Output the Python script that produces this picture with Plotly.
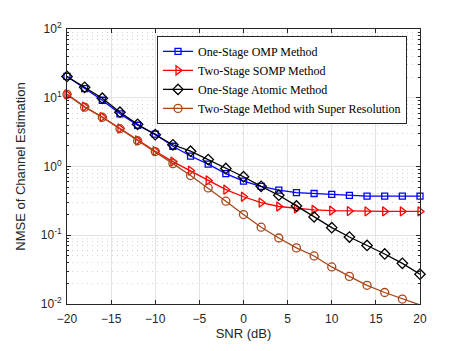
import plotly.graph_objects as go

snr = [-20, -18, -16, -14, -12, -10, -8, -6, -4, -2, 0, 2, 4, 6, 8, 10, 12, 14, 16, 18, 20]

omp = [20.4, 13.6, 9.2, 5.84, 3.98, 2.96, 1.97, 1.42, 1.08, 0.787, 0.612, 0.515, 0.452,
       0.418, 0.405, 0.394, 0.38, 0.372, 0.37, 0.37, 0.37]
somp = [11.2, 7.4, 5.24, 3.57, 2.39, 1.67, 1.18, 0.869, 0.627, 0.46, 0.363, 0.299, 0.262,
        0.245, 0.234, 0.228, 0.225, 0.222, 0.222, 0.222, 0.222]
atomic = [20.4, 14.2, 9.84, 6.17, 4.11, 2.9, 2.07, 1.67, 1.26, 0.937, 0.71, 0.515, 0.382,
          0.267, 0.185, 0.129, 0.0942, 0.071, 0.0534, 0.039, 0.0271]
superres = [11.2, 7.3, 5.2, 3.55, 2.37, 1.65, 1.10, 0.738, 0.488, 0.313, 0.2, 0.131, 0.0912,
            0.0655, 0.05, 0.0346, 0.0252, 0.0187, 0.0147, 0.0118, 0.0097]

names = ["One-Stage OMP Method", "Two-Stage SOMP Method",
         "One-Stage Atomic Method", "Two-Stage Method with Super Resolution"]
colors = ["#0000FF", "#FF0000", "#000000", "#A8471A"]
symbols = ["square-open", "triangle-right-open", "diamond-open", "circle-open"]
sizes = [6, 8, 8, 8]
series = [omp, somp, atomic, superres]

y_tickvals = [0.01, 0.1, 1, 10, 100]
y_ticktext = ["10<sup>-2</sup>", "10<sup>-1</sup>", "10<sup>0</sup>", "10<sup>1</sup>", "10<sup>2</sup>"]
y_minor = [m * 10 ** e for e in range(-2, 2) for m in range(2, 10)]

fig = go.Figure()
for name, col, sym, sz, ys in zip(names, colors, symbols, sizes, series):
    fig.add_trace(go.Scatter(
        x=snr, y=ys, name=name, mode="lines+markers",
        line=dict(color=col, width=1.3),
        marker=dict(symbol=sym, size=sz, color=col, line=dict(width=1.3, color=col)),
        cliponaxis=False,
    ))

axis_color = "#262626"
fig.update_layout(
    width=457, height=343,
    margin=dict(l=52, r=45, t=21, b=41),
    paper_bgcolor="white", plot_bgcolor="white",
    font=dict(family="Liberation Sans, Arial, sans-serif", size=12, color=axis_color),
    showlegend=True,
    legend=dict(
        x=0.255, y=0.975, xanchor="left", yanchor="top",
        bgcolor="white", bordercolor=axis_color, borderwidth=1,
        font=dict(family="Liberation Serif, Times New Roman, serif", size=12, color="black"),
        tracegroupgap=0, itemwidth=30,
    ),
    xaxis=dict(
        range=[-20, 20], tickvals=[-20, -15, -10, -5, 0, 5, 10, 15, 20],
        ticks="inside", ticklen=4, tickcolor=axis_color,
        showline=True, linecolor=axis_color, linewidth=1, mirror="ticks",
        showgrid=True, gridcolor="#E3E3E3", gridwidth=1, zeroline=False,
        ticklabelstandoff=4,
        title=dict(text="SNR (dB)", font=dict(size=13), standoff=3),
        tickfont=dict(size=12),
    ),
    yaxis=dict(
        type="log", range=[-2, 2], tickvals=y_tickvals, ticktext=y_ticktext,
        ticks="inside", ticklen=4, tickcolor=axis_color,
        showline=True, linecolor=axis_color, linewidth=1, mirror="ticks",
        showgrid=True, gridcolor="#E3E3E3", gridwidth=1, zeroline=False,
        ticklabelstandoff=2,
        minor=dict(tickmode="array", tickvals=y_minor, ticks="inside", ticklen=2,
                   tickcolor=axis_color, showgrid=True, gridcolor="#D2D2D2",
                   griddash="1px,4px", gridwidth=1),
        title=dict(text="NMSE of Channel Estimation", font=dict(size=13), standoff=12),
        tickfont=dict(size=12),
    ),
)

fig.write_html("out.html")
